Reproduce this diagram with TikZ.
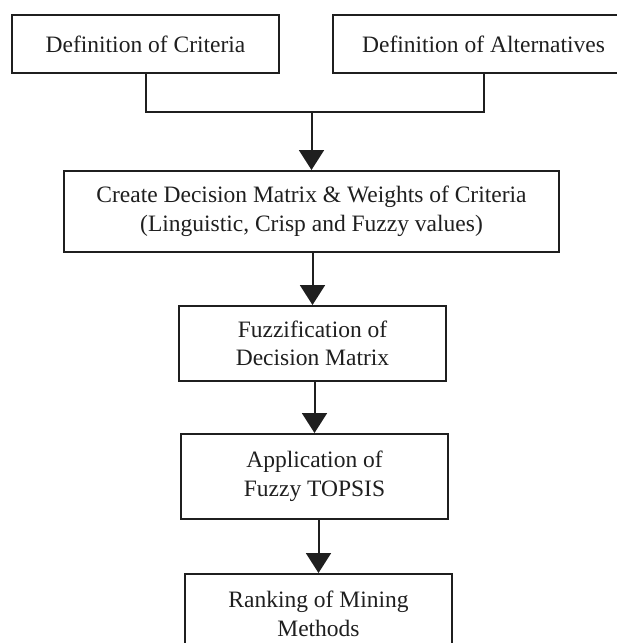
\documentclass[tikz,border=0pt]{standalone}
\usepackage{fontspec}
\setmainfont{Liberation Serif}
\usetikzlibrary{arrows.meta}
\definecolor{trait}{gray}{0.12}
\tikzset{
  boite/.style={draw=trait, line width=2pt, inner sep=0pt, align=center,
    text=trait, font=\fontsize{23.5}{28.5}\selectfont},
  fleche/.style={draw=trait, line width=2pt,
    -{Triangle[length=20pt,width=25pt]}}
}
\begin{document}
\begin{tikzpicture}[x=1pt,y=-1pt]
    % Cadre de l'image
    \clip (0,0) rectangle (617,643);
    \fill[white] (0,0) rectangle (617,643);

    % Définitions du départ
    \node[boite, minimum width=267pt, minimum height=58pt] (crit) at (145.5,44) {Definition of Criteria};
    \node[boite, minimum width=301pt, minimum height=58pt] (alt) at (483.5,44) {Definition of Alternatives};

    % Matrice de décision
    \node[boite, minimum width=495pt, minimum height=81pt] (matrice) at (311.5,211.5)
      {Create Decision Matrix \& Weights of Criteria\\(Linguistic, Crisp and Fuzzy values)};

    % Étapes suivantes
    \node[boite, minimum width=267pt, minimum height=75pt] (fuzz) at (312.5,343.5) {Fuzzification of\\Decision Matrix};
    \node[boite, minimum width=267pt, minimum height=85pt] (topsis) at (314.5,476.5) {Application of\\Fuzzy TOPSIS};
    \node[boite, minimum width=267pt, minimum height=80pt] (rang) at (318.5,614) {Ranking of Mining\\Methods};

    % Jonction des deux définitions
    \coordinate (jonction) at (311.5,112);
    \draw[trait, line width=2pt] (crit.south) |- (jonction);
    \draw[trait, line width=2pt] (alt.south) |- (jonction);
    \draw[fleche] (jonction) -- (matrice.north);

    % Flèches entre les étapes
    \draw[fleche] (fuzz.north |- matrice.south) -- (fuzz.north);
    \draw[fleche] (topsis.north |- fuzz.south) -- (topsis.north);
    \draw[fleche] (rang.north |- topsis.south) -- (rang.north);
\end{tikzpicture}
\end{document}
